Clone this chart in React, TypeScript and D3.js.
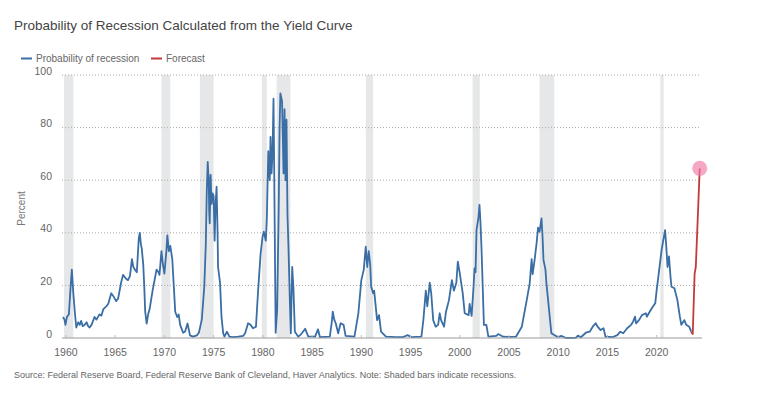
import React from 'react'
import * as d3 from 'd3'

// probability of recession (decimal year, percent)
const probYears = [
  1959.7, 1959.85, 1959.95, 1960.1, 1960.3, 1960.45, 1960.6, 1960.75, 1960.9, 1961.05, 1961.25, 1961.4, 1961.55,
  1961.7, 1961.9, 1962.1, 1962.25, 1962.4, 1962.6, 1962.9, 1963.1, 1963.4, 1963.6, 1963.8, 1964.1, 1964.3, 1964.6,
  1964.8, 1965.1, 1965.3, 1965.6, 1965.8, 1966.1, 1966.3, 1966.5, 1966.7, 1966.85, 1967.0, 1967.2, 1967.4, 1967.5,
  1967.6, 1967.7, 1967.85, 1967.95, 1968.05, 1968.2, 1968.35, 1968.5, 1968.8, 1969.0, 1969.2, 1969.4, 1969.5, 1969.7,
  1969.85, 1970.0, 1970.2, 1970.3, 1970.45, 1970.6, 1970.8, 1970.95, 1971.1, 1971.3, 1971.45, 1971.6, 1971.9, 1972.1,
  1972.35, 1972.6, 1972.9, 1973.3, 1973.5, 1973.8, 1974.05, 1974.2, 1974.3, 1974.4, 1974.45, 1974.5, 1974.55, 1974.6,
  1974.7, 1974.75, 1974.8, 1974.9, 1975.0, 1975.1, 1975.2, 1975.3, 1975.4, 1975.45, 1975.55, 1975.65, 1975.8, 1975.97,
  1976.1, 1976.35, 1976.6, 1977.0, 1977.5, 1978.0, 1978.2, 1978.5, 1978.75, 1979.0, 1979.3, 1979.5, 1979.77, 1979.97,
  1980.1, 1980.3, 1980.4, 1980.55, 1980.65, 1980.7, 1980.78, 1980.88, 1980.98, 1981.08, 1981.15, 1981.2, 1981.3,
  1981.45, 1981.6, 1981.7, 1981.78, 1981.95, 1982.1, 1982.2, 1982.3, 1982.4, 1982.5, 1982.6, 1982.74, 1982.84, 1982.98,
  1983.1, 1983.25, 1983.6, 1983.9, 1984.3, 1984.6, 1985.3, 1985.6, 1985.8, 1986.8, 1987.0, 1987.1, 1987.25, 1987.4,
  1987.65, 1987.9, 1988.2, 1988.4, 1989.3, 1989.7, 1990.0, 1990.25, 1990.45, 1990.6, 1990.75, 1990.9, 1991.0, 1991.2,
  1991.3, 1991.4, 1991.6, 1991.8, 1992.0, 1992.5, 1993.5, 1994.2, 1994.7, 1995.1, 1996.1, 1996.3, 1996.55, 1996.7,
  1996.95, 1997.1, 1997.3, 1997.55, 1997.8, 1997.96, 1998.1, 1998.4, 1998.6, 1998.9, 1999.2, 1999.4, 1999.65, 1999.8,
  2000.0, 2000.3, 2000.5, 2000.9, 2001.0, 2001.2, 2001.4, 2001.5, 2001.6, 2001.7, 2001.9, 2002.0, 2002.1, 2002.2,
  2002.35, 2002.45, 2002.7, 2002.9, 2003.7, 2003.9, 2004.4, 2005.0, 2005.7, 2006.3, 2006.8, 2007.1, 2007.3, 2007.4,
  2007.6, 2007.8, 2007.95, 2008.1, 2008.3, 2008.4, 2008.5, 2008.7, 2008.8, 2008.97, 2009.1, 2009.3, 2009.6, 2010.0,
  2010.3, 2010.8, 2011.8, 2012.0, 2012.3, 2012.8, 2013.2, 2013.5, 2013.8, 2014.0, 2014.3, 2014.6, 2014.8, 2015.5,
  2016.0, 2016.3, 2016.6, 2017.0, 2017.4, 2017.6, 2017.8, 2017.9, 2018.2, 2018.5, 2018.9, 2019.0, 2019.2, 2019.5,
  2019.85, 2020.0, 2020.25, 2020.5, 2020.7, 2020.85, 2020.95, 2021.1, 2021.25, 2021.4, 2021.5, 2021.8, 2022.1,
  2022.35, 2022.5, 2022.8, 2023.0, 2023.3, 2023.5,
]
const probValues = [
  8, 7, 5, 8, 9, 18, 26, 17, 10, 4, 6, 5, 6.5,
  4.5, 5, 6, 4.5, 4, 5, 8, 7, 9, 8.5, 11, 12, 13, 17,
  16, 14, 15, 21, 24, 22.5, 22, 23.5, 30, 27, 26, 25, 38, 40,
  36, 34, 28, 20, 10, 5.5, 9, 11, 18, 22, 26, 25, 24, 33,
  28, 24.5, 33, 39, 33, 35, 30, 20, 10, 8, 9, 5, 2, 2.5,
  5.5, 1, 0.5, 1, 2, 7, 19.5, 35, 55, 67, 63, 61, 48, 43.6,
  62, 55, 51, 55, 54, 37, 51, 57.5, 40, 27, 24, 21, 8, 1.8,
  0.5, 2.4, 0.5, 0.3, 0.5, 0.8, 1.8, 5.6, 5, 3.7, 4.3, 17, 32, 38.5,
  40.4, 37, 45, 71, 63, 60, 76.5, 62.6, 70, 91, 65, 43.6, 2,
  10.6, 47, 80, 93, 90, 62.6, 87, 60, 83, 47, 34.7, 14.4, 1.8, 27,
  19.5, 2.4, 0.5, 1.5, 3.5, 0.6, 0.5, 3.3, 0.3, 0.5, 6, 10, 7, 5.6,
  1.8, 5.6, 5, 0.8, 0.5, 9.4, 22, 26, 34.7, 27, 33, 28, 19.5, 17,
  18, 14.4, 6.8, 8.7, 2.4, 0.5, 0.3, 0.3, 1.1, 0.3, 0.5, 6.8, 18, 12,
  21, 17, 6.8, 4.3, 5, 9.4, 6.8, 4.3, 10, 14.4, 22, 18, 21, 29,
  24.6, 17, 9.4, 8.7, 13, 8.4, 19.5, 26.5, 25, 41, 46, 50.6, 44, 34.7,
  17, 5, 5, 0.5, 0.8, 1.5, 0.5, 0.4, 0.5, 4.3, 14.4, 20.8, 30, 24.3,
  29.7, 36, 42, 40.4, 45.5, 39, 29.7, 26, 20.8, 14.4, 9.4, 1.8, 1.1, 0.3,
  0.8, 0, 0.1, 0.9, 0.3, 2, 2.4, 4.3, 5.6, 4.3, 3, 3.7, 0.5, 0.3,
  1.1, 2.4, 1.8, 3.7, 5, 6.2, 8.1, 5.6, 6.8, 8.7, 9.4, 8.1, 9.4, 11.3,
  13.2, 18.3, 25.9, 33.5, 37.9, 41, 36, 27, 31, 23.3, 19.5, 18.9, 14.4,
  8.1, 5, 6.8, 5, 4.3, 2.4,
]

// forecast segment
const forecastYears = [2023.5, 2023.66, 2023.85, 2023.97, 2024.37]
const forecastValues = [2.4, 1.5, 24.5, 27, 64.5]

// shaded recession bars (start, end) as drawn
const recessionStart = [1959.8, 1969.7, 1973.6, 1979.9, 1981.4, 1990.46, 2001.3, 2008.1, 2020.37]
const recessionEnd = [1960.75, 1970.6, 1975.0, 1980.4, 1982.8, 1991.2, 2002.03, 2009.6, 2020.7]

const xTicks = [1960, 1965, 1970, 1975, 1980, 1985, 1990, 1995, 2000, 2005, 2010, 2015, 2020]
const yTicks = [0, 20, 40, 60, 80, 100]

const FONT = '"Liberation Sans", Arial, sans-serif'

export default function App() {
  const x = d3.scaleLinear().domain([1959.6, 2024.6]).range([62, 702])
  const y = d3.scaleLinear().domain([0, 100]).range([338, 75])

  const line = d3
    .line<number>()
    .x((_, i) => x(probYears[i]))
    .y((d) => y(d))
  const fLine = d3
    .line<number>()
    .x((_, i) => x(forecastYears[i]))
    .y((d) => y(d))

  const last = forecastValues.length - 1

  return (
    <svg
      width={763}
      height={399}
      style={{ position: 'absolute', left: 0, top: 0, background: '#fff' }}
      fontFamily={FONT}
    >
      <text x={14} y={30} fontSize={13.5} fill="#444">
        Probability of Recession Calculated from the Yield Curve
      </text>

      {/* legend */}
      <line x1={21} x2={32} y1={58.5} y2={58.5} stroke="#3a6ea5" strokeWidth={2} />
      <text x={36} y={62} fontSize={10} fill="#666">
        Probability of recession
      </text>
      <line x1={151} x2={162} y1={58.5} y2={58.5} stroke="#c23b3b" strokeWidth={2} />
      <text x={166} y={62} fontSize={10} fill="#666">
        Forecast
      </text>

      {recessionStart.map((s, i) => (
        <rect
          key={s}
          x={x(s)}
          y={y(100)}
          width={x(recessionEnd[i]) - x(s)}
          height={y(0) - y(100)}
          fill="#e6e7e9"
        />
      ))}

      {yTicks.map((t) => (
        <g key={t}>
          {t > 0 && (
            <line x1={62} x2={701} y1={y(t)} y2={y(t)} stroke="#aaa" strokeWidth={1} strokeDasharray="1,2" />
          )}
          <text x={52} y={y(t) - 0.5} fontSize={10.5} fill="#666" textAnchor="end">
            {t}
          </text>
        </g>
      ))}

      <text
        transform={`translate(25,${y(50) + 2}) rotate(-90)`}
        fontSize={10}
        fill="#777"
        textAnchor="middle"
      >
        Percent
      </text>

      <path d={line(probValues) || ''} fill="none" stroke="#3a6ea5" strokeWidth={1.8} strokeLinejoin="round" />
      <path d={fLine(forecastValues) || ''} fill="none" stroke="#c23b3b" strokeWidth={1.8} strokeLinejoin="round" />
      <circle
        cx={x(forecastYears[last])}
        cy={y(forecastValues[last])}
        r={7.5}
        fill="#f07aa5"
        fillOpacity={0.65}
      />

      <line x1={62} x2={702} y1={y(0)} y2={y(0)} stroke="#999" strokeWidth={1.2} />
      {xTicks.map((t) => (
        <g key={t}>
          <line x1={x(t)} x2={x(t)} y1={y(0)} y2={y(0) - 3} stroke="#bbb" />
          <text x={x(t)} y={356} fontSize={10.5} fill="#666" textAnchor="middle">
            {t}
          </text>
        </g>
      ))}

      <text x={14} y={378} fontSize={9} fill="#666">
        Source: Federal Reserve Board, Federal Reserve Bank of Cleveland, Haver Analytics. Note: Shaded bars indicate
        recessions.
      </text>
    </svg>
  )
}
